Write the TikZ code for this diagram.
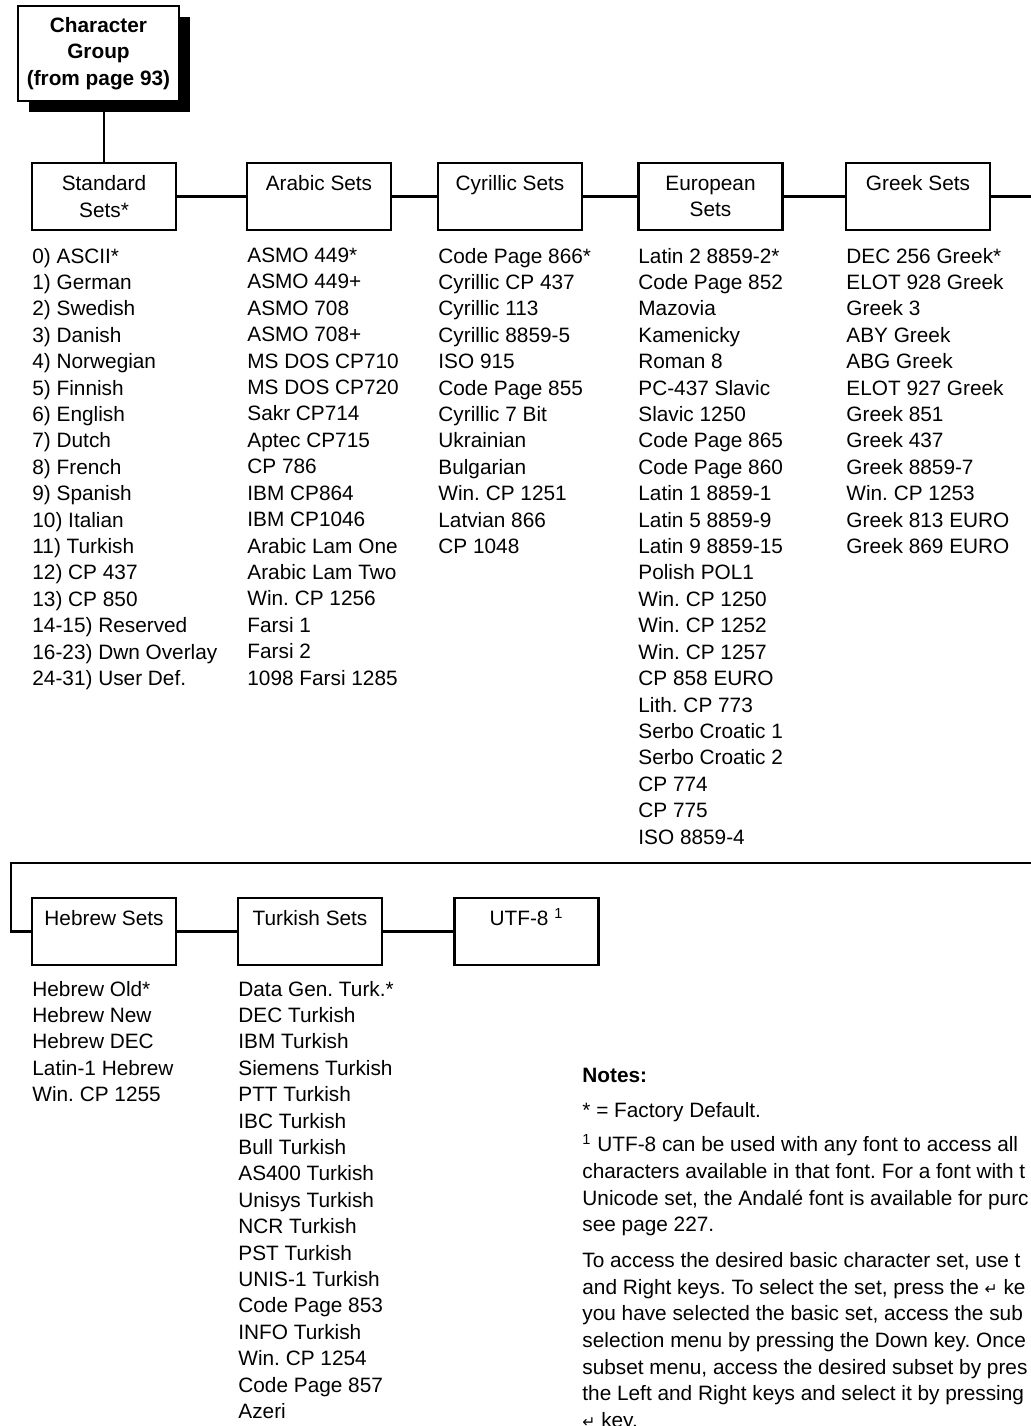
\documentclass[tikz,border=0pt]{standalone}
\usepackage{fontspec}
\setmainfont{Liberation Sans}
\newfontfamily\symfont{DejaVu Sans}
\usetikzlibrary{positioning,shadows}
\frenchspacing
\newdimen\pxu
\pxu=0.4808pt
\newcommand{\boxfont}{\fontsize{10pt}{12.7pt}\selectfont}
\newcommand{\listfont}{\fontsize{10pt}{12.7pt}\selectfont}
\newcommand{\notefont}{\fontsize{10pt}{12.8pt}\selectfont}
\newcommand{\enterkey}{{\symfont\fontsize{7.5pt}{8pt}\selectfont ↵}}

\begin{document}
\begin{tikzpicture}[
  x=0.4808pt, y=-0.4808pt,
  setbox/.style={draw, line width=1pt, fill=white, align=center, inner sep=0pt,
                 minimum width=144\pxu, minimum height=67\pxu, font=\boxfont},
  groupbox/.style={setbox, minimum width=161\pxu, minimum height=95\pxu,
                   font=\boxfont\bfseries,
                   drop shadow={shadow xshift=11\pxu, shadow yshift=-11\pxu,
                                fill=black, opacity=1}},
  listtxt/.style={anchor=north west, align=left, inner sep=0pt, font=\listfont},
  notetxt/.style={anchor=north west, align=left, inner sep=0pt, font=\notefont},
  ln/.style={line width=1pt},
]
\useasboundingbox (0,0) rectangle (1031,1426);
\clip (0,0) rectangle (1031,1426);

\node[groupbox] (group) at (98.5,53.5) {Character\\Group\\(from page 93)};

\node[setbox] (std)   at (104,196.5)   {Standard\\Sets*};
\node[setbox] (arab)  at (319,196.5)   {Arabic Sets\\\mbox{}};
\node[setbox] (cyr)   at (510,196.5)   {Cyrillic Sets\\\mbox{}};
\node[setbox] (euro)  at (710.5,196.5) {European\\Sets};
\node[setbox] (greek) at (918,196.5)   {Greek Sets\\\mbox{}};

\node[setbox] (hebr)  at (104,931.5)   {Hebrew Sets\\\mbox{}};
\node[setbox] (turk)  at (310,931.5)   {Turkish Sets\\\mbox{}};
\node[setbox] (utf)   at (526.5,931.5) {UTF-8 \smash{\textsuperscript{1}}\\\mbox{}};

\coordinate (wrapR) at (1060,862.7);
\coordinate (wrapL) at (11,862.7);

\draw[ln] (group.south -| std.north) -- (std.north);
\draw[ln] (std) -- (arab);
\draw[ln] (arab) -- (cyr);
\draw[ln] (cyr) -- (euro);
\draw[ln] (euro) -- (greek);
\draw[ln] (greek.east) -| (wrapR) -- (wrapL) |- (hebr.west);
\draw[ln] (hebr) -- (turk);
\draw[ln] (turk) -- (utf);

\node[listtxt] (stdlist) at (32,247.5) {0) ASCII*\\1) German\\2) Swedish\\3) Danish\\4) Norwegian\\5) Finnish\\6) English\\7) Dutch\\8) French\\9) Spanish\\10) Italian\\11) Turkish\\12) CP 437\\13) CP 850\\14-15) Reserved\\16-23) Dwn Overlay\\24-31) User Def.};
\node[listtxt] (arablist) at (247,247.5) {ASMO 449*\\ASMO 449+\\ASMO 708\\ASMO 708+\\MS DOS CP710\\MS DOS CP720\\Sakr CP714\\Aptec CP715\\CP 786\\IBM CP864\\IBM CP1046\\Arabic Lam One\\Arabic Lam Two\\Win. CP 1256\\Farsi 1\\Farsi 2\\1098 Farsi 1285};
\node[listtxt] (cyrlist) at (438,247.5) {Code Page 866*\\Cyrillic CP 437\\Cyrillic 113\\Cyrillic 8859-5\\ISO 915\\Code Page 855\\Cyrillic 7 Bit\\Ukrainian\\Bulgarian\\Win. CP 1251\\Latvian 866\\CP 1048};
\node[listtxt] (eurolist) at (638,247.5) {Latin 2 8859-2*\\Code Page 852\\Mazovia\\Kamenicky\\Roman 8\\PC-437 Slavic\\Slavic 1250\\Code Page 865\\Code Page 860\\Latin 1 8859-1\\Latin 5 8859-9\\Latin 9 8859-15\\Polish POL1\\Win. CP 1250\\Win. CP 1252\\Win. CP 1257\\CP 858 EURO\\Lith. CP 773\\Serbo Croatic 1\\Serbo Croatic 2\\CP 774\\CP 775\\ISO 8859-4};
\node[listtxt] (greeklist) at (846,247.5) {DEC 256 Greek*\\ELOT 928 Greek\\Greek 3\\ABY Greek\\ABG Greek\\ELOT 927 Greek\\Greek 851\\Greek 437\\Greek 8859-7\\Win. CP 1253\\Greek 813 EURO\\Greek 869 EURO};

\node[listtxt] (hebrlist) at (32,980.5) {Hebrew Old*\\Hebrew New\\Hebrew DEC\\Latin-1 Hebrew\\Win. CP 1255};
\node[listtxt] (turklist) at (238,980.5) {Data Gen. Turk.*\\DEC Turkish\\IBM Turkish\\Siemens Turkish\\PTT Turkish\\IBC Turkish\\Bull Turkish\\AS400 Turkish\\Unisys Turkish\\NCR Turkish\\PST Turkish\\UNIS-1 Turkish\\Code Page 853\\INFO Turkish\\Win. CP 1254\\Code Page 857\\Azeri};

\node[notetxt] (notes) at (582,1068) {\textbf{Notes:}\\[8.4\pxu]
* = Factory Default.\\[7.4\pxu]
\textsuperscript{1} UTF-8 can be used with any font to access all\\
characters available in that font. For a font with t\\
Unicode set, the Andalé font is available for purc\\
see page 227.\\[9.4\pxu]
To access the desired basic character set, use t\\
and Right keys. To select the set, press the \enterkey{} ke\\
you have selected the basic set, access the sub\\
selection menu by pressing the Down key. Once\\
subset menu, access the desired subset by pres\\
the Left and Right keys and select it by pressing\\
\enterkey{} key.};

\end{tikzpicture}
\end{document}
